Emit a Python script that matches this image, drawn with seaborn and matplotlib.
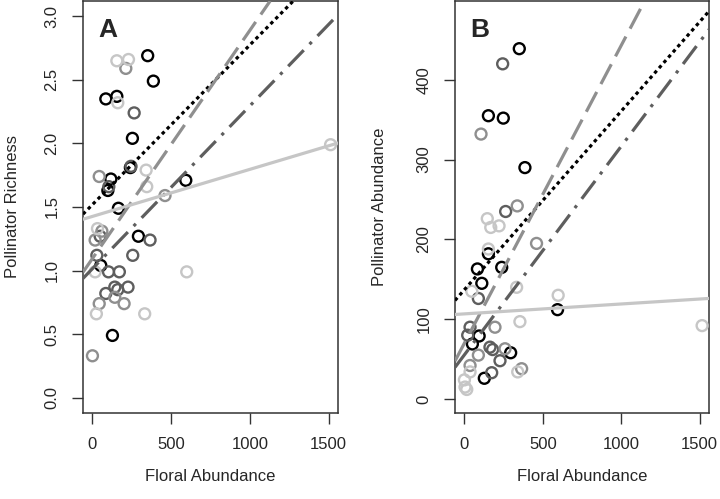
import numpy as np
import pandas as pd
import matplotlib
matplotlib.use("Agg")
import matplotlib.pyplot as plt
import seaborn as sns

# group shades (black, dark, medium, light grey)
groups = ["k", "d", "m", "l"]
group_colors = {"k": "#000000", "d": "#5e5e5e", "m": "#8f8f8f", "l": "#c6c6c6"}
group_styles = {"k": (0, (1.1, 1.1)), "d": (0, (7, 2.6, 1, 2.6)),
                "m": (0, (7, 2.8)), "l": "-"}

# panel A: floral abundance vs pollinator richness
a_x = {
    "k": [351, 387, 85, 155, 254, 117, 98, 241, 593, 165, 292, 53, 127],
    "d": [265, 104, 245, 49, 366, 256, 28, 102, 171, 85, 142, 161, 226],
    "m": [212, 43, 461, 60, 17, 43, 142, 201, 0],
    "l": [155, 229, 161, 341, 345, 1513, 32, 17, 599, 25, 332],
}
a_y = {
    "k": [2.69, 2.49, 2.35, 2.37, 2.04, 1.72, 1.63, 1.81, 1.71, 1.49, 1.27, 1.04, 0.49],
    "d": [2.24, 1.66, 1.82, 1.27, 1.24, 1.12, 1.12, 0.99, 0.99, 0.82, 0.87, 0.85, 0.87],
    "m": [2.59, 1.74, 1.59, 1.31, 1.24, 0.74, 0.79, 0.74, 0.33],
    "l": [2.65, 2.66, 2.32, 1.79, 1.66, 1.99, 1.33, 0.99, 0.99, 0.66, 0.66],
}
a_intercept = {"k": 1.519, "d": 1.015, "m": 1.095, "l": 1.426}
a_slope = {"k": 0.001255, "d": 0.00128, "m": 0.001794, "l": 0.00037}

# panel B: floral abundance vs pollinator abundance
b_x = {
    "k": [350, 153, 248, 386, 153, 83, 238, 111, 594, 94, 51, 295, 127],
    "d": [244, 263, 89, 36, 21, 163, 180, 227, 174],
    "m": [106, 337, 460, 195, 89, 259, 365, 36],
    "l": [146, 168, 221, 153, 333, 598, 354, 36, 340, 0, 4, 15, 1516, 47],
}
b_y = {
    "k": [439, 355, 352, 290, 182, 163, 165, 145, 112, 79, 69, 58, 26],
    "d": [420, 235, 126, 90, 80, 65, 62, 48, 33],
    "m": [332, 242, 195, 90, 55, 63, 38, 42],
    "l": [226, 215, 217, 188, 140, 130, 97, 34, 34, 24, 15, 12, 92, 135],
}
b_intercept = {"k": 137.0, "d": 55.4, "m": 70.0, "l": 106.7}
b_slope = {"k": 0.2237, "d": 0.2613, "m": 0.373, "l": 0.0124}

x_ticks = [0, 500, 1000, 1500]
a_ticks = [0.0, 0.5, 1.0, 1.5, 2.0, 2.5, 3.0]
b_ticks = [0, 100, 200, 300, 400]

sns.set_style("white")
plt.rcParams["font.family"] = ["Liberation Sans", "DejaVu Sans"]

fig = plt.figure(figsize=(7.2, 4.99), dpi=100)
ax_a = fig.add_axes([83 / 720, 86 / 499, 255 / 720, 412 / 499])
ax_b = fig.add_axes([455 / 720, 86 / 499, 254 / 720, 412 / 499])

panels = [
    (ax_a, a_x, a_y, a_intercept, a_slope, "A", "Pollinator Richness",
     (-0.12, 3.12), a_ticks, "{:.1f}", -0.247),
    (ax_b, b_x, b_y, b_intercept, b_slope, "B", "Pollinator Abundance",
     (-17.5, 498.75), b_ticks, "{:.0f}", -0.268),
]

for ax, px, py, icpt, slp, tag, ylab, ylim, yt, fmt, ylx in panels:
    for g in groups:
        df = pd.DataFrame({"x": px[g], "y": py[g]})
        sns.scatterplot(data=df, x="x", y="y", ax=ax, marker="o", s=62,
                        facecolors="none", edgecolor=group_colors[g],
                        linewidth=1.7, zorder=3)
    for g in groups:
        ax.axline((0, icpt[g]), slope=slp[g], color=group_colors[g],
                  linestyle=group_styles[g], linewidth=2.3, zorder=4)
    ax.set_xlim(-60, 1560)
    ax.set_ylim(*ylim)
    ax.set_xticks(x_ticks)
    ax.set_xticklabels([str(t) for t in x_ticks])
    ax.set_yticks(yt)
    ax.set_yticklabels([fmt.format(t) for t in yt], rotation=90, va="center")
    ax.tick_params(axis="both", direction="out", length=8, width=1,
                   color="#333333", labelsize=12, pad=9, left=True, bottom=True)
    for sp in ax.spines.values():
        sp.set_color("#333333")
        sp.set_linewidth(1.1)
    ax.set_xlabel("Floral Abundance", fontsize=12)
    ax.set_ylabel(ylab, fontsize=12)
    ax.xaxis.set_label_coords(0.5, -0.137)
    ax.yaxis.set_label_coords(ylx, 0.5)
    ax.text(0.098, 0.93, tag, transform=ax.transAxes, fontsize=19,
            fontweight="bold", ha="center", va="center")

fig.savefig("out.png", dpi=100)
